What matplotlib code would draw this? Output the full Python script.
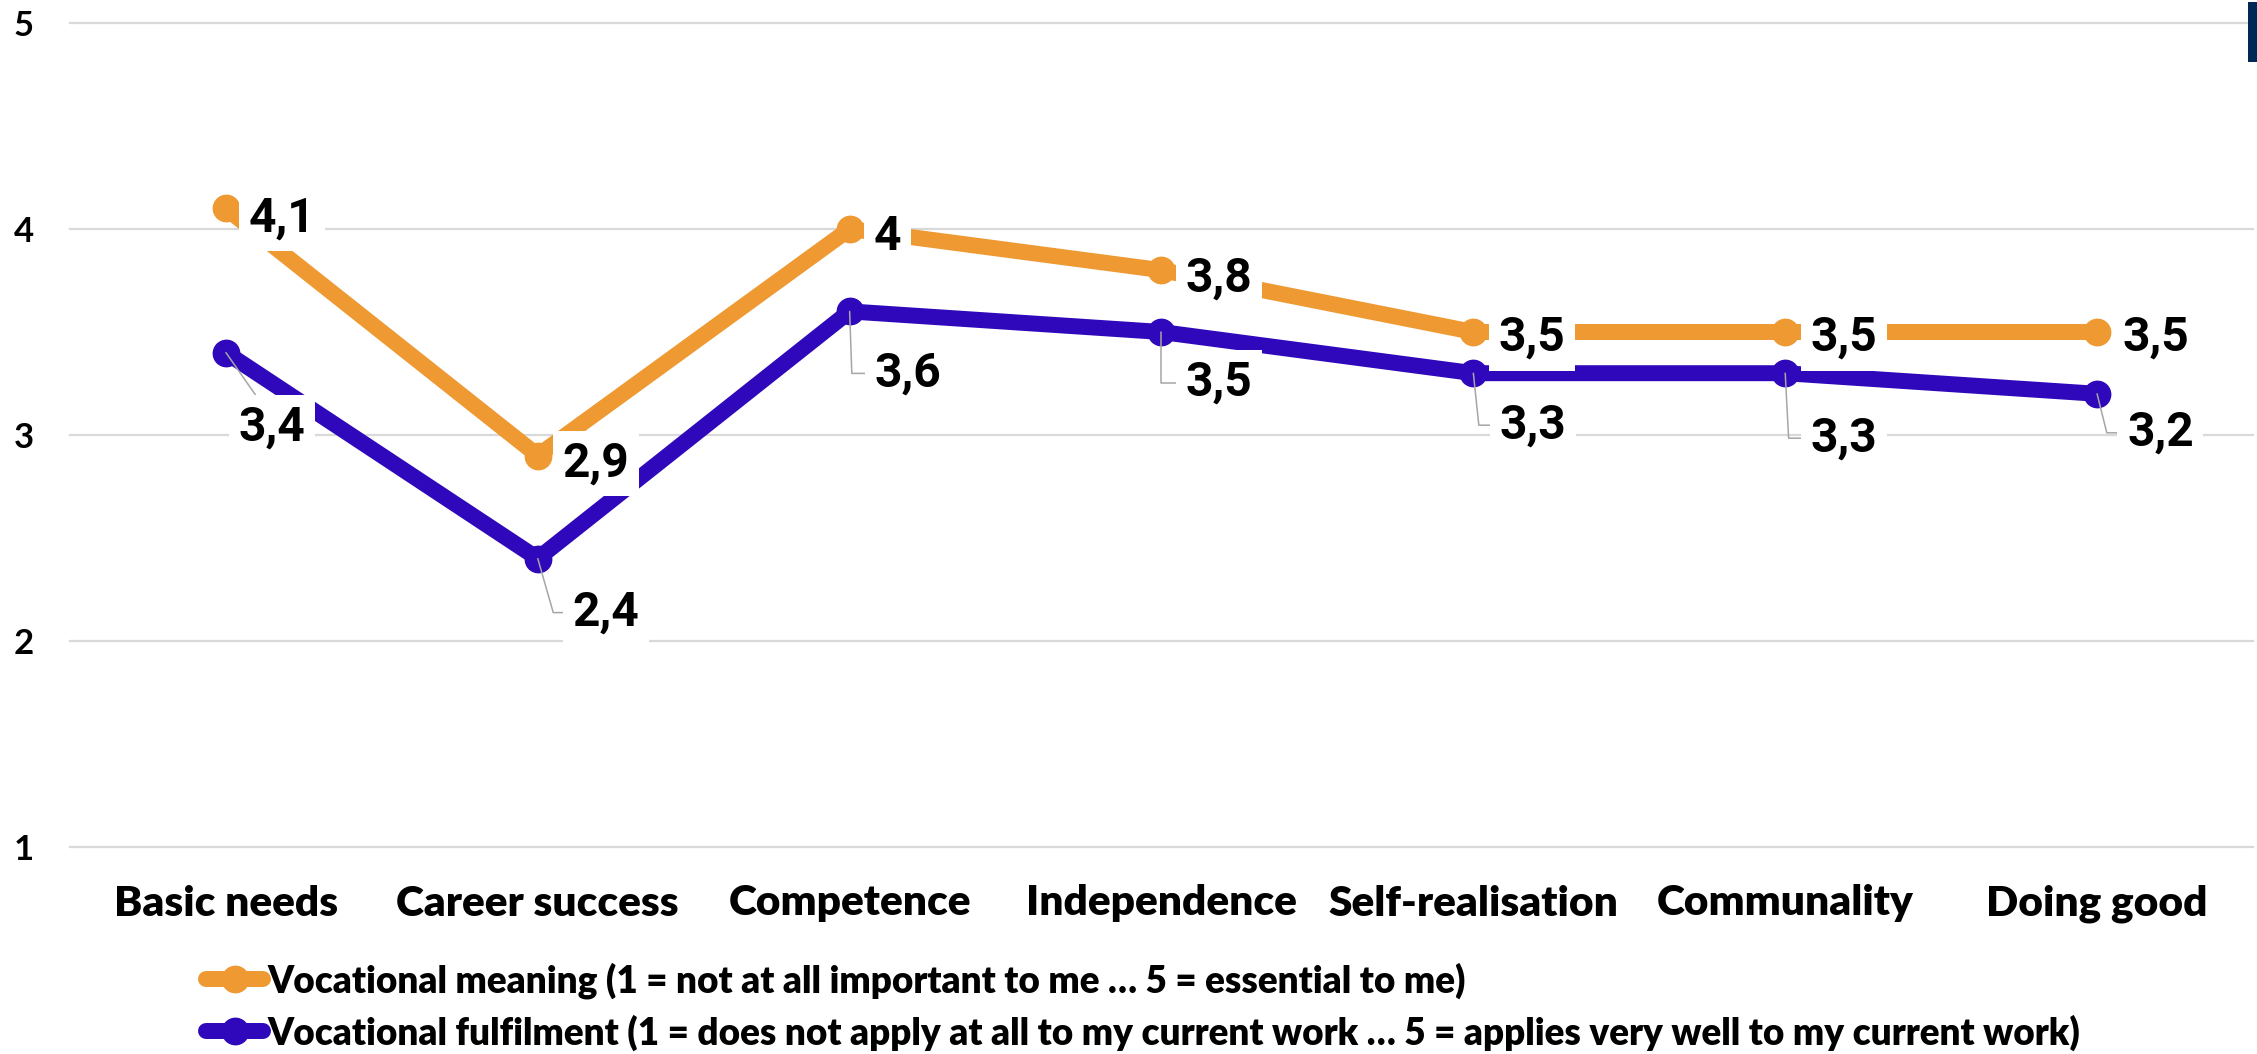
import matplotlib
matplotlib.use("Agg")
import matplotlib.pyplot as plt
from matplotlib.lines import Line2D
from matplotlib.patches import Rectangle

# ---- data ----
categories = ["Basic needs", "Career success", "Competence", "Independence",
              "Self-realisation", "Communality", "Doing good"]
meaning = [4.1, 2.9, 4.0, 3.8, 3.5, 3.5, 3.5]
fulfilment = [3.4, 2.4, 3.6, 3.5, 3.3, 3.3, 3.2]
meaning_name = "Vocational meaning (1 = not at all important to me \u2026 5 = essential to me)"
fulfilment_name = ("Vocational fulfilment (1 = does not apply at all to my current work \u2026 "
                   "5 = applies very well to my current work)")
yticks = [1, 2, 3, 4, 5]

ORANGE = "#EE9932"
BLUE = "#2E08BA"
GRID = "#D9D9D9"
LEADER = "#A6A6A6"

# label offsets in pixels (dx right, dy down) from each point
orange_off = [(23, 5), (25, 3), (24, 3), (24, 3), (25, 1), (25, 1), (25, 1)]
blue_off = [(13, 70), (35, 49), (25, 57), (24, 46), (26, 47), (25, 60), (30, 34)]
blue_leader = [None, 106, 92, 90, 96, 93, 104]

PX = 72 / 100  # px -> points

fig = plt.figure(figsize=(22.57, 10.54), dpi=100)
ax = fig.add_axes([70 / 2257, 207 / 1054, 2183 / 2257, 824 / 1054])

x = list(range(len(categories)))
ax.plot(x, fulfilment, color=BLUE, lw=11.5, marker="o", ms=19,
        solid_joinstyle="round", zorder=3)
ax.plot(x, meaning, color=ORANGE, lw=11.5, marker="o", ms=19,
        solid_joinstyle="round", zorder=3)

ax.set_xlim(-0.5, len(categories) - 0.5)
ax.set_ylim(1, 5)
ax.set_yticks(yticks)
ax.set_xticks(x)
ax.set_xticklabels(categories, fontfamily="Lato", fontweight="heavy", fontsize=30.5)
ax.set_yticklabels([str(v) for v in yticks], fontfamily="Lato", fontweight="bold", fontsize=25)
ax.tick_params(axis="y", length=0, pad=26)
ax.tick_params(axis="x", length=0, pad=27)
ax.yaxis.grid(True, color=GRID, lw=1.6)
ax.set_axisbelow(True)
for gl in ax.get_ygridlines():
    gl.set_clip_on(False)
for s in ax.spines.values():
    s.set_visible(False)

box = dict(boxstyle="square,pad=0.2", fc="white", ec="none")

for i, v in enumerate(meaning):
    dx, dy = orange_off[i]
    ax.annotate(f"{v:g}".replace(".", ","), (i, v), xytext=(dx * PX, -dy * PX),
                textcoords="offset points", ha="left", va="center_baseline",
                fontfamily="Roboto", fontweight="bold", fontsize=34.5,
                bbox=box, zorder=6)

for i, v in enumerate(fulfilment):
    dx, dy = blue_off[i]
    if blue_leader[i] is None:
        arrow = dict(arrowstyle="-", color=LEADER, lw=1.1, shrinkA=0, shrinkB=0,
                     relpos=(0.35, 1.0), connectionstyle="arc3")
    else:
        arrow = dict(arrowstyle="-", color=LEADER, lw=1.1, shrinkA=0, shrinkB=0,
                     relpos=(0.0, 0.5),
                     connectionstyle=f"angle,angleA=0,angleB={blue_leader[i]},rad=0")
    ax.annotate(f"{v:g}".replace(".", ","), (i, v), xytext=(dx * PX, -dy * PX),
                textcoords="offset points", ha="left", va="center_baseline",
                fontfamily="Roboto", fontweight="bold", fontsize=34.5,
                bbox=box, arrowprops=arrow, zorder=6)

handles = [
    Line2D([], [], color=ORANGE, lw=11.5, marker="o", ms=19, solid_capstyle="round"),
    Line2D([], [], color=BLUE, lw=11.5, marker="o", ms=19, solid_capstyle="round"),
]
fig.legend(handles, [meaning_name, fulfilment_name], loc="upper left",
           bbox_to_anchor=(206 / 2257, 1 - 962 / 1054), frameon=False,
           prop=dict(family="Lato", weight="heavy", size=26.6),
           handlelength=1.55, handletextpad=0.12, borderpad=0, borderaxespad=0,
           labelspacing=0.42)

# small dark tab in the top right corner
fig.add_artist(Rectangle((2248 / 2257, 1 - 62 / 1054), 9 / 2257, 60 / 1054,
                         transform=fig.transFigure, fc="#002856", ec="none"))

fig.savefig("out.png", dpi=100, facecolor="white")
